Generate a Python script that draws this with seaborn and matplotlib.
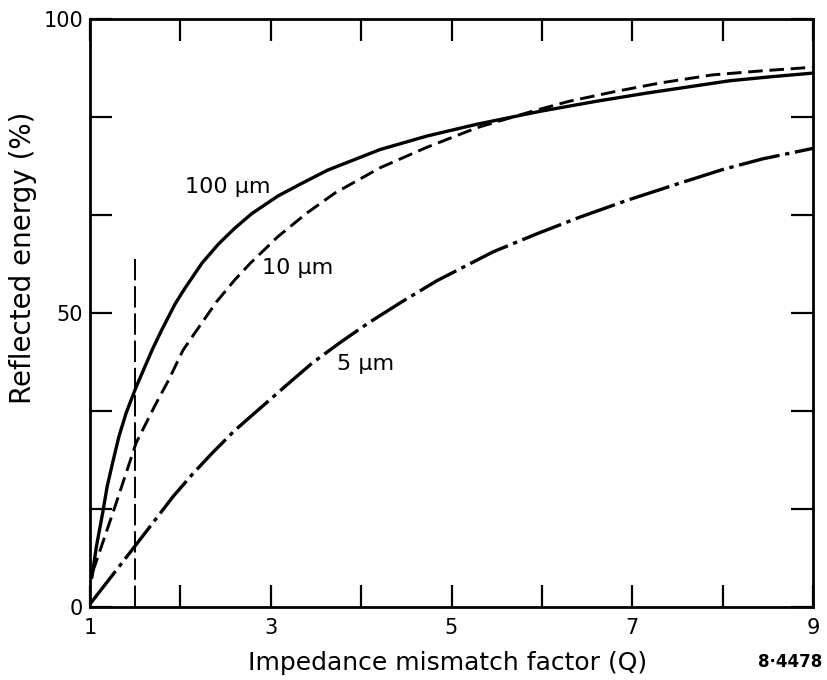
import matplotlib
matplotlib.use("Agg")
import matplotlib.pyplot as plt
import seaborn as sns
import pandas as pd
from matplotlib.ticker import FixedLocator, NullFormatter

# ---- data ----
q_100um = [1.02, 1.07, 1.14, 1.19, 1.25, 1.32, 1.40, 1.51, 1.69, 1.79, 1.94, 2.05,
           2.24, 2.42, 2.60, 2.79, 3.08, 3.35, 3.63, 4.21, 4.73, 5.28, 5.98, 6.60,
           7.16, 8.08, 8.55, 9.00]
r_100um = [5.0, 10.2, 16.0, 20.5, 24.5, 29.0, 33.0, 37.4, 43.8, 47.0, 51.5, 54.2,
           58.5, 61.7, 64.4, 66.9, 69.9, 72.1, 74.3, 77.8, 80.1, 82.1, 84.3, 86.0,
           87.4, 89.5, 90.2, 90.8]

q_10um = [1.03, 1.14, 1.29, 1.51, 1.72, 1.87, 2.03, 2.16, 2.40, 2.60, 2.77, 3.08,
          3.40, 3.71, 4.21, 4.73, 5.28, 5.87, 6.30, 6.79, 7.30, 7.89, 8.45, 9.00]
r_10um = [6.0, 10.9, 17.7, 27.9, 34.3, 38.6, 43.7, 46.6, 51.9, 55.6, 58.4, 63.0,
          67.0, 70.4, 74.7, 78.2, 81.5, 84.2, 86.0, 87.6, 89.1, 90.5, 91.2, 91.8]

q_5um = [1.00, 1.51, 1.72, 1.92, 2.14, 2.36, 2.60, 2.86, 3.15, 3.46, 3.77, 4.08,
         4.45, 4.84, 5.46, 5.95, 6.42, 6.95, 7.53, 8.00, 8.44, 9.00]
r_5um = [0.5, 10.6, 14.8, 18.8, 22.7, 26.3, 30.0, 33.5, 37.4, 41.5, 45.0, 48.3,
         51.9, 55.5, 60.4, 63.5, 66.3, 69.2, 72.1, 74.4, 76.2, 78.0]

marker_q = 1.5
marker_top = 60

x_major = [1, 3, 5, 7, 9]
x_minor = [2, 4, 6, 8]
y_major = [0, 50, 100]
y_minor = [100 / 6, 200 / 6, 400 / 6, 500 / 6]

curve_labels = ["100 \u03bcm", "10 \u03bcm", "5 \u03bcm"]
label_pos_q = [2.52, 3.30, 4.05]
label_pos_r = [71.4, 57.7, 41.3]

df = pd.concat([
    pd.DataFrame({"Q": q_100um, "R": r_100um, "size": "100"}),
    pd.DataFrame({"Q": q_10um, "R": r_10um, "size": "10"}),
    pd.DataFrame({"Q": q_5um, "R": r_5um, "size": "5"}),
])

sns.set_theme(style="ticks")
plt.rcParams['font.family'] = ['DejaVu Sans']

fig = plt.figure(figsize=(8.27, 6.8), dpi=100)
ax = fig.add_axes([90 / 827, 1 - 607 / 680, (813 - 90) / 827, (607 - 19) / 680])

styles = {
    "100": dict(lw=2.4, ls="-"),
    "10": dict(lw=2.1, ls=(0, (5.0, 2.3))),
    "5": dict(lw=2.4, ls=(0, (12.5, 1.7, 1.3, 1.7))),
}
for key, st in styles.items():
    sub = df[df["size"] == key]
    sns.lineplot(data=sub, x="Q", y="R", ax=ax, color="black", linewidth=st["lw"],
                 linestyle=st["ls"], errorbar=None, sort=True,
                 solid_joinstyle="round", dash_joinstyle="round")

ax.vlines(marker_q, 0, marker_top, color="black", lw=1.4, linestyles=[(0, (11, 3))])

for txt, qx, ry in zip(curve_labels, label_pos_q, label_pos_r):
    ax.text(qx, ry, txt, fontsize=16, ha="center", va="center", color="black")

ax.set_xlim(1, 9)
ax.set_ylim(0, 100)
ax.xaxis.set_major_locator(FixedLocator(x_major))
ax.xaxis.set_minor_locator(FixedLocator(x_minor))
ax.yaxis.set_major_locator(FixedLocator(y_major))
ax.yaxis.set_minor_locator(FixedLocator(y_minor))
ax.xaxis.set_minor_formatter(NullFormatter())
ax.yaxis.set_minor_formatter(NullFormatter())

ax.tick_params(which="both", direction="in", length=16, width=1.6, color="black",
               top=True, right=True, labelsize=15, labelcolor="black")
ax.tick_params(axis="x", pad=8)
ax.tick_params(axis="y", pad=5)

for sp in ax.spines.values():
    sp.set_linewidth(2.0)
    sp.set_color("black")

ax.set_xlabel("Impedance mismatch factor (Q)", fontsize=18, color="black")
ax.set_ylabel("Reflected energy (%)", fontsize=20, color="black")
ax.xaxis.set_label_coords(0.495, -0.075)
ax.yaxis.set_label_coords(-0.073, 0.594)

fig.text(822 / 827, 1 - 662 / 680, "8\u00b74478", fontsize=12, fontweight="bold",
         ha="right", va="center", color="black")

fig.savefig("out.png", dpi=100)
